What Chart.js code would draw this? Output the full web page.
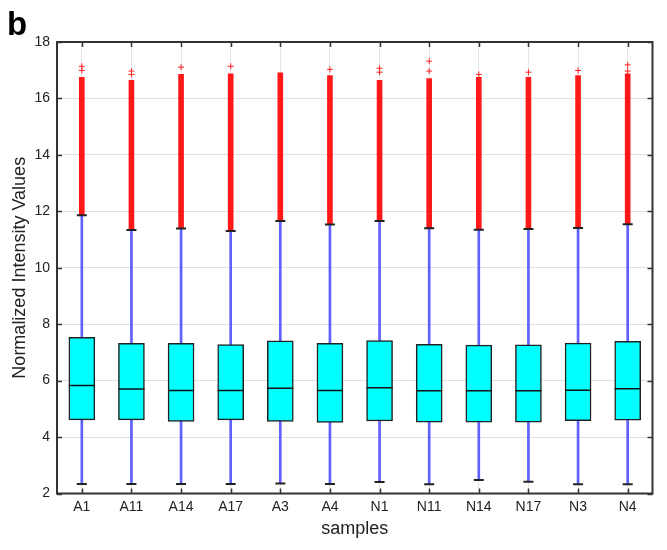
<!DOCTYPE html>
<html>
<head>
<meta charset="utf-8">
<script src="https://cdn.jsdelivr.net/npm/chart.js@4.4.1/dist/chart.umd.min.js"></script>
<style>
  html, body { margin: 0; padding: 0; background: #fff; }
  #wrap { width: 667px; height: 550px; }
</style>
</head>
<body>
<div id="wrap"><canvas id="box-chart"></canvas></div>
<script>
// box plot summary
const samples = ['A1', 'A11', 'A14', 'A17', 'A3', 'A4', 'N1', 'N11', 'N14', 'N17', 'N3', 'N4'];
const lowWhisker  = [2.34, 2.34, 2.34, 2.34, 2.35, 2.34, 2.41, 2.33, 2.48, 2.42, 2.33, 2.33];
const q1          = [4.61, 4.61, 4.55, 4.61, 4.55, 4.52, 4.57, 4.53, 4.53, 4.53, 4.58, 4.60];
const medians     = [5.83, 5.70, 5.65, 5.65, 5.73, 5.65, 5.75, 5.64, 5.64, 5.64, 5.66, 5.71];
const q3          = [7.53, 7.32, 7.32, 7.28, 7.41, 7.32, 7.42, 7.29, 7.26, 7.27, 7.33, 7.39];
const highWhisker = [11.86, 11.34, 11.39, 11.30, 11.66, 11.53, 11.66, 11.40, 11.35, 11.37, 11.41, 11.54];
// outliers: a dense run from the whisker up to denseTop, then a few isolated ones
const denseTop    = [16.75, 16.64, 16.85, 16.87, 16.91, 16.81, 16.64, 16.70, 16.75, 16.75, 16.81, 16.87];
const sparseOutliers = [
    [16.99, 17.14], [16.85, 16.97], [17.11], [17.14], [], [17.03],
    [16.93, 17.07], [16.97, 17.32], [16.85], [16.93], [16.99], [16.97, 17.19]
];
const yTicks = [2, 4, 6, 8, 10, 12, 14, 16, 18];

const FONT = '"Liberation Sans", Arial, sans-serif';
const TXT = '#222';

const sparsePts = [];
sparseOutliers.forEach((list, i) => list.forEach(v => sparsePts.push({ x: samples[i], y: v })));

// frame + inward ticks like matlab
const framePlugin = {
    id: 'frame',
    afterDraw(chart) {
        const { ctx, chartArea: a, scales } = chart;
        ctx.save();
        ctx.strokeStyle = '#333';
        ctx.lineWidth = 1.5;
        ctx.beginPath();
        yTicks.forEach(v => {
            const y = Math.round(scales.y.getPixelForValue(v)) + 0.5;
            ctx.moveTo(a.left, y); ctx.lineTo(a.left + 5, y);
            ctx.moveTo(a.right, y); ctx.lineTo(a.right - 5, y);
        });
        samples.forEach((s, i) => {
            const x = Math.round(scales.x.getPixelForValue(i)) + 0.5;
            ctx.moveTo(x, a.top); ctx.lineTo(x, a.top + 5);
            ctx.moveTo(x, a.bottom); ctx.lineTo(x, a.bottom - 5);
        });
        ctx.stroke();
        ctx.lineWidth = 2;
        ctx.strokeRect(a.left, a.top, a.right - a.left, a.bottom - a.top);
        ctx.restore();
    }
};

new Chart(document.getElementById('box-chart'), {
    data: {
        labels: samples,
        datasets: [{
            type: 'bar',
            data: samples.map((s, i) => [lowWhisker[i], highWhisker[i]]),
            backgroundColor: '#6060ff',
            barThickness: 2,
            grouped: false,
            order: 6
        }, {
            type: 'bar',
            data: samples.map((s, i) => [highWhisker[i], denseTop[i]]),
            backgroundColor: 'rgba(255,0,0,0.9)',
            barThickness: 5,
            grouped: false,
            order: 5
        }, {
            type: 'bar',
            data: samples.map((s, i) => [q1[i], q3[i]]),
            backgroundColor: '#00ffff',
            borderColor: '#222',
            borderWidth: 1.5,
            borderSkipped: false,
            barThickness: 26,
            grouped: false,
            order: 4
        }, {
            type: 'line',
            data: medians,
            showLine: false,
            pointStyle: 'line',
            pointRadius: 13,
            borderColor: '#111',
            borderWidth: 1.5,
            order: 3
        }, {
            type: 'line',
            data: lowWhisker.concat(),
            showLine: false,
            pointStyle: 'line',
            pointRadius: 5,
            borderColor: '#222',
            borderWidth: 2,
            order: 2
        }, {
            type: 'line',
            data: highWhisker.concat(),
            showLine: false,
            pointStyle: 'line',
            pointRadius: 5,
            borderColor: '#222',
            borderWidth: 2,
            order: 1
        }, {
            type: 'line',
            data: sparsePts,
            showLine: false,
            pointStyle: 'cross',
            pointRadius: 3,
            borderColor: '#ff2020',
            borderWidth: 1,
            order: 0
        }]
    },
    options: {
        responsive: true,
        maintainAspectRatio: false,
        animation: false,
        events: [],
        layout: { padding: { left: 7, right: 9, top: 0, bottom: 0 } },
        plugins: {
            legend: { display: false },
            tooltip: { enabled: false },
            title: {
                display: true,
                text: 'b',
                align: 'start',
                color: '#000',
                font: { family: FONT, size: 33, weight: 'bold', lineHeight: 1.0 },
                padding: { top: 9, bottom: 0 }
            }
        },
        scales: {
            x: {
                type: 'category',
                offset: true,
                grid: { color: '#e6e6e6', offset: false, drawTicks: false },
                border: { display: false },
                ticks: { color: TXT, font: { family: FONT, size: 14 }, padding: 5, maxRotation: 0 },
                title: { display: true, text: 'samples', color: TXT, font: { family: FONT, size: 18 }, padding: { top: 0, bottom: 10 } },
                afterFit(scale) { scale.height = 56.5; }
            },
            y: {
                min: 2,
                max: 18,
                afterBuildTicks(scale) { scale.ticks = yTicks.map(v => ({ value: v })); },
                grid: { color: '#e0e0e0', drawTicks: false },
                border: { display: false },
                ticks: { color: TXT, font: { family: FONT, size: 14 }, padding: 7 },
                title: { display: true, text: 'Normalized Intensity Values', color: TXT, font: { family: FONT, size: 18 }, padding: { top: 2, bottom: 0 } },
                afterFit(scale) { scale.width = 50; }
            }
        }
    },
    plugins: [framePlugin]
});
</script>
</body>
</html>
